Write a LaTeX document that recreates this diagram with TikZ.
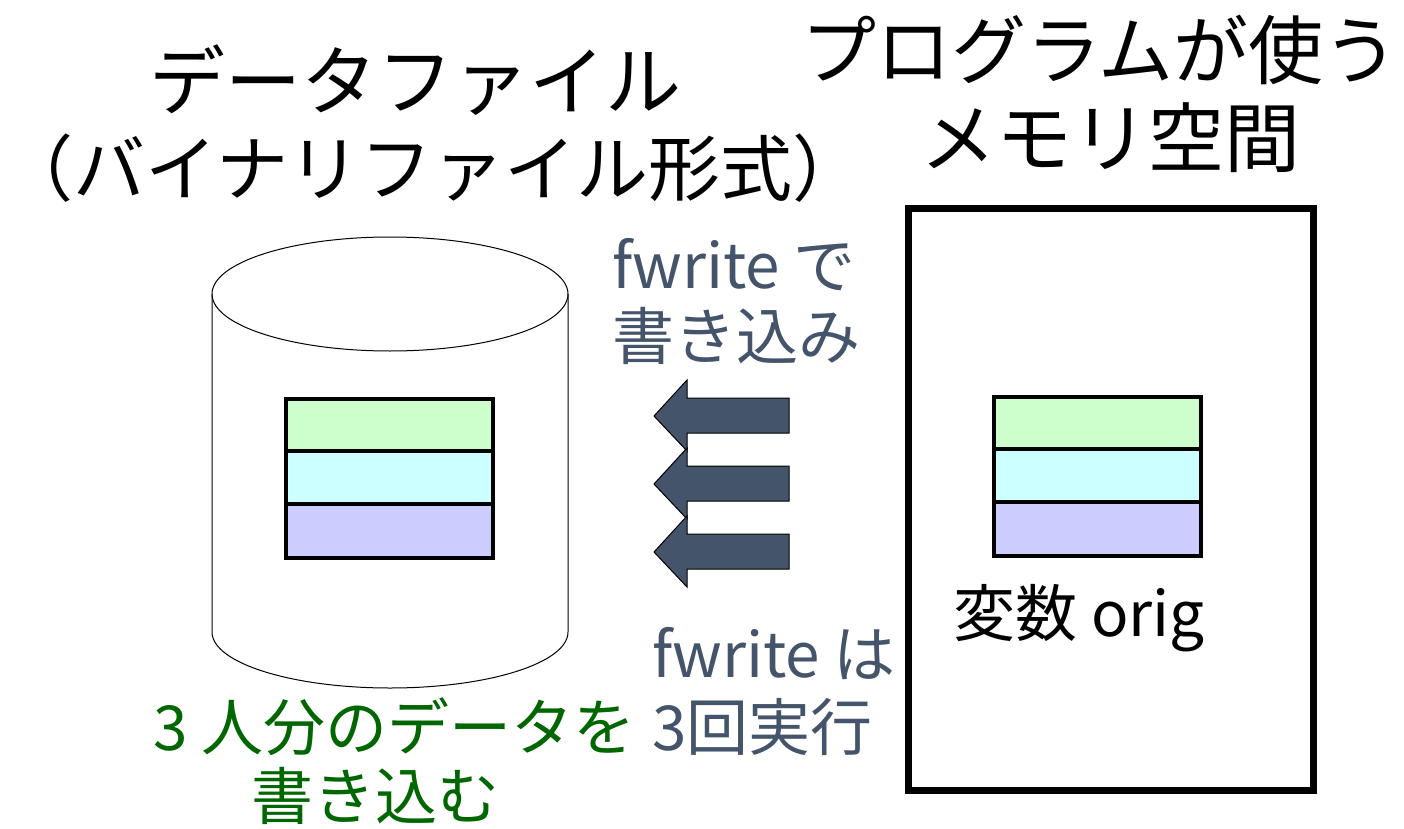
\documentclass[tikz,border=0pt]{standalone}
\usepackage{fontspec}
\setmainfont{Noto Sans CJK JP}
\usetikzlibrary{calc}
\definecolor{slate}{HTML}{44546A}
\definecolor{dgreen}{HTML}{006600}
\definecolor{recA}{HTML}{CCFFCC}
\definecolor{recB}{HTML}{CCFFFF}
\definecolor{recC}{HTML}{CCCCFF}
\tikzset{
  big/.style={inner sep=0pt,font=\fontsize{76}{84}\selectfont},
  mid/.style={inner sep=0pt,font=\fontsize{62}{70}\selectfont},
  rec/.style={draw=black,line width=4.5pt},
  barrow/.style={fill=slate,draw=black,line width=1pt,line join=miter}
}
\begin{document}
\begin{tikzpicture}[x=1pt,y=-1pt]
\useasboundingbox (0,0) rectangle (1404,829);
% titles
\node[big] (tfile) at (415,80) {データファイル};
\node[big,font=\fontsize{72}{80}\selectfont] (tfmt) at (433,168) {（バイナリファイル形式）};
\node[big,font=\fontsize{75}{84}\selectfont] (tprog) at (1100,50) {プログラムが使う};
\node[big] (tmem) at (1110,138) {メモリ空間};
% cylinder
\draw [line width=1pt] (212,294) -- (212,632) arc[start angle=180,end angle=0,x radius=178,y radius=56] -- (568,294);
\draw [line width=1pt] (390,294) ellipse[x radius=178,y radius=57];
% memory
\draw [line width=7pt] (908,208) rectangle (1313,790);
% records
\foreach \x/\y in {286/399,994/397}{
  \draw [rec,fill=recA] (\x,\y) rectangle ++(207,52);
  \draw [rec,fill=recB] (\x,\y+52) rectangle ++(207,53);
  \draw [rec,fill=recC] (\x,\y+105) rectangle ++(207,54);
}
% arrows
\foreach \y in {416,484,552}
  \draw [barrow] (654,\y) -- (687,\y-36) -- (687,\y-18) -- (789,\y-18)
    -- (789,\y+17) -- (687,\y+17) -- (687,\y+35) -- cycle;
% labels
\node[mid,anchor=west,text=slate] (lw1) at (612,265) {fwrite で};
\node[mid,anchor=west,text=slate] (lw2) at (612,336) {書き込み};
\node[mid,anchor=west,text=slate] (ln1) at (652,654) {fwrite は};
\node[mid,anchor=west,text=slate] (ln2) at (652,727) {3回実行};
\node[mid,anchor=east,text=dgreen] (lg1) at (636,727) {3 人分のデータを};
\node[mid,text=dgreen] (lg2) at (375,796) {書き込む};
\node[mid,anchor=west] (lvar) at (953,618) {変数 orig};
\end{tikzpicture}
\end{document}
